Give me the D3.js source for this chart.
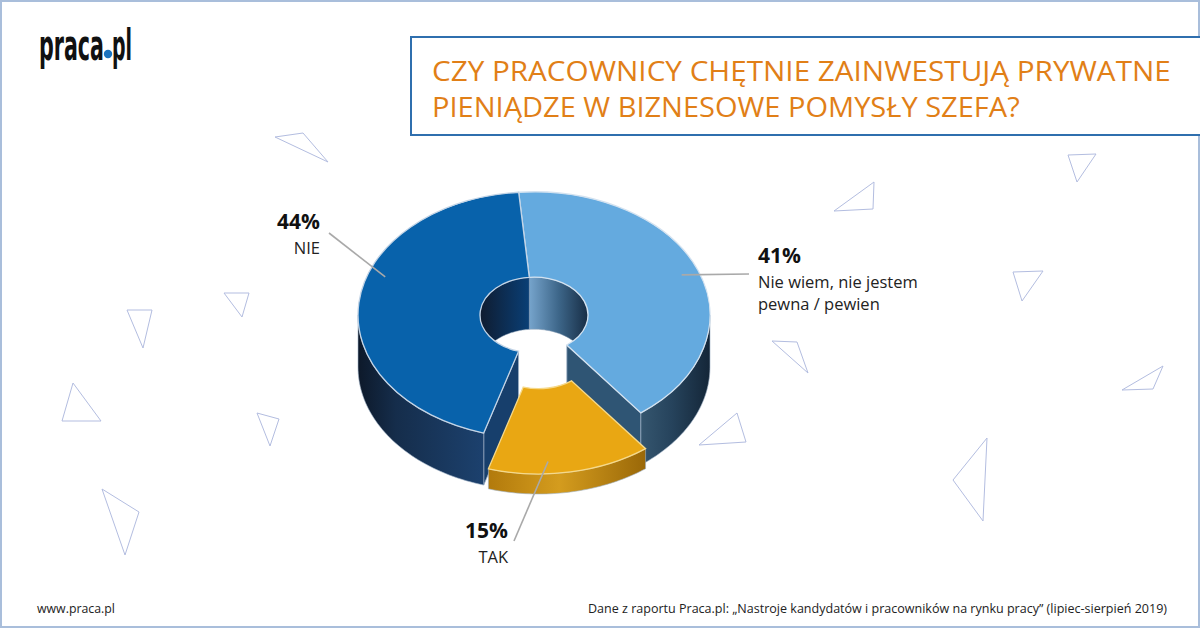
<!DOCTYPE html>
<html>
<head>
<meta charset="utf-8">
<script src="https://cdn.jsdelivr.net/npm/d3@7"></script>
<style>
  html, body { margin: 0; padding: 0; background: #fff; }
  svg { display: block; }
</style>
</head>
<body>
<svg id="SVG_CONTAINER" width="1200" height="628"></svg>
<script>
// data
const categories = ["Nie wiem, nie jestem pewna / pewien", "TAK", "NIE"];
const values = [41, 15, 44];
const labelLines = [["Nie wiem, nie jestem", "pewna / pewien"], ["TAK"], ["NIE"]];

const titleLines = ["CZY PRACOWNICY CHĘTNIE ZAINWESTUJĄ PRYWATNE", "PIENIĄDZE W BIZNESOWE POMYSŁY SZEFA?"];
const sourceText = "Dane z raportu Praca.pl: „Nastroje kandydatów i pracowników na rynku pracy” (lipiec-sierpień 2019)";
const siteText = "www.praca.pl";

// styles per slice
const topColors   = ["#64aadf", "#e9a713", "#0862ab"];
const topStrokes  = ["#d3e2f0", "#f6d98a", "#c3d4e6"];
const sideStops   = [
    [["0", "#35566f"], ["0.45", "#26435c"], ["1", "#142638"]],
    [["0", "#b27a0c"], ["0.45", "#d49c1e"], ["1", "#9a6808"]],
    [["0", "#0d192a"], ["0.3", "#152d4b"], ["1", "#1c416e"]]
];
const innerStops  = [
    [["0", "#76a4cc"], ["0.5", "#3d6689"], ["1", "#172d45"]],
    [["0", "#b27a0c"], ["1", "#9a6808"]],
    [["0", "#0f1c30"], ["1", "#0a3f76"]]
];
const faceColors  = ["#2f5574", "#a87410", "#173f6c"];
const explode     = [0, 52, 0];
const depths      = [52, 20, 52];

// label layout: text anchor point, leader end, anchor fraction along slice
const labelLayout = [
    { x: 758, y: 263, anchor: "start", lx: 749, ly: 274, t: 0.5 },
    { x: 508, y: 538, anchor: "end",   lx: 514, ly: 541, t: 0.63 },
    { x: 320, y: 229, anchor: "end",   lx: 329, ly: 233, t: 0.59 }
];

// decorative triangles in the background
const triangles = [
    [[275,137],[303,133],[328,162]], [[127,310],[152,310],[143,348]],
    [[224,293],[249,293],[242,317]], [[73,383],[62,421],[101,421]],
    [[257,413],[279,419],[270,446]], [[102,489],[139,512],[125,555]],
    [[1068,155],[1096,154],[1077,182]], [[834,211],[874,182],[873,209]],
    [[1013,272],[1043,271],[1022,301]], [[772,341],[797,342],[808,373]],
    [[1122,390],[1163,366],[1153,389]], [[699,445],[737,413],[746,442]],
    [[987,438],[953,480],[983,521]]
];

const width = 1200, height = 628;
const cx = 534, cy = 315, R = 176, r0 = 54, tilt = 0.7;
const rad = Math.PI / 180;

const svg = d3.select("#SVG_CONTAINER");
const defs = svg.append("defs");

// frame
svg.append("rect")
    .attr("x", 1).attr("y", 1).attr("width", width - 2).attr("height", height - 2)
    .attr("fill", "#fff").attr("stroke", "#a9bedb").attr("stroke-width", 2);

// triangles
svg.append("g").selectAll("path")
    .data(triangles)
    .enter().append("path")
    .attr("d", d => d3.line()(d) + "Z")
    .attr("fill", "none")
    .attr("stroke", "#b3bde0")
    .attr("stroke-width", 1);

// squeeze a text horizontally to a given width
function fitText(sel, x, y, w) {
    let len = sel.node().getComputedTextLength();
    sel.attr("transform", `translate(${x},${y}) scale(${w / len},1)`);
}

// logo
let logoFont = "'Liberation Sans Narrow', 'DejaVu Sans Condensed', sans-serif";
let praca = svg.append("text").attr("font-family", logoFont)
    .attr("font-weight", "bold").attr("font-size", 42).attr("fill", "#111").text("praca");
fitText(praca, 39, 60, 65);
let pl = svg.append("text").attr("font-family", logoFont)
    .attr("font-weight", "bold").attr("font-size", 42).attr("fill", "#111").text("pl");
fitText(pl, 112, 60, 20);
svg.append("circle").attr("cx", 108).attr("cy", 54).attr("r", 4.2).attr("fill", "#1a73c0");

// title box
svg.append("rect")
    .attr("x", 411).attr("y", 37).attr("width", 800).attr("height", 98)
    .attr("fill", "#fff").attr("stroke", "#2f6fae").attr("stroke-width", 2);
titleLines.forEach((line, i) => {
    let t = svg.append("text")
        .attr("font-family", "'Open Sans', sans-serif")
        .attr("font-size", 26.5)
        .attr("fill", "#e17f17")
        .text(line);
    fitText(t, 432, 81 + i * 36, i === 0 ? 739 : 588);
});

// footer
svg.append("text")
    .attr("x", 37).attr("y", 613)
    .attr("font-family", "'Open Sans', sans-serif").attr("font-size", 12.5).attr("fill", "#222")
    .attr("textLength", 78).attr("lengthAdjust", "spacingAndGlyphs")
    .text(siteText);
svg.append("text")
    .attr("x", 588).attr("y", 613)
    .attr("font-family", "'Open Sans', sans-serif").attr("font-size", 12.5).attr("fill", "#222")
    .attr("textLength", 579).attr("lengthAdjust", "spacingAndGlyphs")
    .text(sourceText);

// pie geometry
const pie = d3.pie().sort(null).value(d => d)
    .startAngle(-5 * rad).endAngle(355 * rad);
const arcs = pie(values);
const arcGen = d3.arc().innerRadius(r0).outerRadius(R);

arcs.forEach((d, i) => {
    let mid = (d.startAngle + d.endAngle) / 2;
    d.off = [explode[i] * Math.sin(mid) * 0.5, -explode[i] * Math.cos(mid) * tilt];
    d.h = depths[i];
});

function ell(a, r, dy, o) {
    return [cx + o[0] + r * Math.sin(a), cy + o[1] - r * Math.cos(a) * tilt + dy];
}

function wall(a0, a1, r, h, o) {
    let n = 48;
    let angs = d3.range(n + 1).map(k => a0 + (a1 - a0) * k / n);
    let top = angs.map(a => ell(a, r, 0, o));
    let bot = angs.slice().reverse().map(a => ell(a, r, h, o));
    return d3.line()(top.concat(bot)) + "Z";
}

function face(a, h, o) {
    let pts = [ell(a, r0, 0, o), ell(a, R, 0, o), ell(a, R, h, o), ell(a, r0, h, o)];
    return d3.line()(pts) + "Z";
}

function clip(a0, a1, lo, hi) {
    for (let k = -1; k <= 1; k++) {
        let s = 2 * Math.PI * k;
        let b0 = Math.max(a0 + s, lo), b1 = Math.min(a1 + s, hi);
        if (b1 > b0) return [b0, b1];
    }
    return null;
}

function gradient(id, stops) {
    let g = defs.append("linearGradient").attr("id", id)
        .attr("x1", 0).attr("x2", 1).attr("y1", 0).attr("y2", 0);
    stops.forEach(s => g.append("stop").attr("offset", s[0]).attr("stop-color", s[1]));
}

arcs.forEach((d, i) => {
    gradient("side" + i, sideStops[i]);
    gradient("inner" + i, innerStops[i]);
});

let chart = svg.append("g").attr("class", "pie3d");

function drawSlice(d, i) {
    let g = chart.append("g");
    let n = arcs.length;
    // inner wall seen through the hole (back half)
    let ic = clip(d.startAngle, d.endAngle, -Math.PI / 2, Math.PI / 2);
    if (ic) {
        g.append("path").attr("d", wall(ic[0], ic[1], r0, d.h, d.off))
            .attr("fill", `url(#inner${i})`)
            .attr("stroke", "#8fa3b8").attr("stroke-width", 0.5);
    }
    // cut faces next to an exploded slice
    let prev = (i - 1 + n) % n, next = (i + 1) % n;
    if (Math.sin(d.startAngle) < 0 && (explode[i] || explode[prev])) {
        g.append("path").attr("d", face(d.startAngle, d.h, d.off))
            .attr("fill", faceColors[i]).attr("stroke", "#9fb2c6").attr("stroke-width", 0.8);
    }
    if (Math.sin(d.endAngle) > 0 && (explode[i] || explode[next])) {
        g.append("path").attr("d", face(d.endAngle, d.h, d.off))
            .attr("fill", faceColors[i]).attr("stroke", "#9fb2c6").attr("stroke-width", 0.8);
    }
    // outer wall (front half)
    let oc = clip(d.startAngle, d.endAngle, Math.PI / 2, 3 * Math.PI / 2);
    if (oc) {
        g.append("path").attr("d", wall(oc[0], oc[1], R, d.h, d.off))
            .attr("fill", `url(#side${i})`)
            .attr("stroke", "#9fb2c6").attr("stroke-width", 0.6);
    }
    // top surface
    g.append("g")
        .attr("transform", `translate(${cx + d.off[0]},${cy + d.off[1]}) scale(1,${tilt})`)
        .append("path")
        .attr("d", arcGen(d))
        .attr("fill", topColors[i])
        .attr("stroke", topStrokes[i])
        .attr("stroke-width", 1.3)
        .attr("vector-effect", "non-scaling-stroke");
}

arcs.forEach((d, i) => { if (!explode[i]) drawSlice(d, i); });
arcs.forEach((d, i) => { if (explode[i]) drawSlice(d, i); });

// labels with leader lines
let labels = svg.append("g").attr("font-family", "'Open Sans', sans-serif");
arcs.forEach((d, i) => {
    let L = labelLayout[i];
    let a = d.startAngle + (d.endAngle - d.startAngle) * L.t;
    let p = ell(a, R * 0.9, 0, d.off);
    labels.append("line")
        .attr("x1", p[0]).attr("y1", p[1])
        .attr("x2", L.lx).attr("y2", L.ly)
        .attr("stroke", "#a9a9a9").attr("stroke-width", 1.6);
    labels.append("text")
        .attr("x", L.x).attr("y", L.y)
        .attr("text-anchor", L.anchor)
        .attr("font-size", 21).attr("font-weight", "bold").attr("fill", "#111")
        .text(values[i] + "%");
    labelLines[i].forEach((line, k) => {
        labels.append("text")
            .attr("x", L.x).attr("y", L.y + 25 + k * 22)
            .attr("text-anchor", L.anchor)
            .attr("font-size", 16.5).attr("fill", "#222")
            .text(line);
    });
});
</script>
</body>
</html>
